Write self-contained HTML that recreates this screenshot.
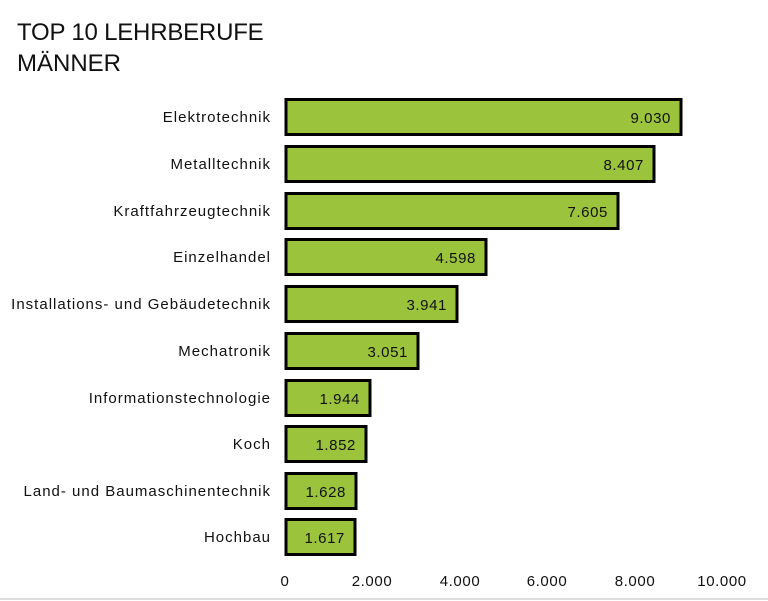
<!DOCTYPE html>
<html><head><meta charset="utf-8"><style>
body{margin:0;background:#fff}
svg{display:block}
text{font-family:"Liberation Sans",sans-serif;fill:#111}
</style></head><body>
<svg width="768" height="601" viewBox="0 0 768 601">
<rect x="0" y="0" width="768" height="601" fill="#fff"/>
<text x="17" y="40" font-size="24" letter-spacing="-0.2">TOP 10 LEHRBERUFE</text>
<text x="17" y="71" font-size="24">MÄNNER</text>
<g stroke="#000" stroke-width="3" fill="#9bc33c">
<rect x="286" y="99.5" width="395" height="35"/>
<rect x="286" y="146.5" width="368" height="35"/>
<rect x="286" y="193.5" width="332" height="35"/>
<rect x="286" y="239.5" width="200" height="35"/>
<rect x="286" y="286.5" width="171" height="35"/>
<rect x="286" y="333.5" width="132" height="35"/>
<rect x="286" y="380.5" width="84" height="35"/>
<rect x="286" y="426.5" width="80" height="35"/>
<rect x="286" y="473.5" width="70" height="35"/>
<rect x="286" y="519.5" width="69" height="35"/>
</g>
<g font-size="15" text-anchor="end" letter-spacing="0.6">
<text x="671" y="123">9.030</text>
<text x="644" y="170">8.407</text>
<text x="608" y="217">7.605</text>
<text x="476" y="263">4.598</text>
<text x="447" y="310">3.941</text>
<text x="408" y="357">3.051</text>
<text x="360" y="404">1.944</text>
<text x="356" y="450">1.852</text>
<text x="346" y="497">1.628</text>
<text x="345" y="543">1.617</text>
</g>
<g font-size="15" text-anchor="end" letter-spacing="1">
<text x="271" y="122">Elektrotechnik</text>
<text x="271" y="169">Metalltechnik</text>
<text x="271" y="216">Kraftfahrzeugtechnik</text>
<text x="271" y="262">Einzelhandel</text>
<text x="271" y="309">Installations- und Gebäudetechnik</text>
<text x="271" y="356">Mechatronik</text>
<text x="271" y="403">Informationstechnologie</text>
<text x="271" y="449">Koch</text>
<text x="271" y="496">Land- und Baumaschinentechnik</text>
<text x="271" y="542">Hochbau</text>
</g>
<g font-size="15" text-anchor="middle" letter-spacing="0.6">
<text x="285" y="586">0</text>
<text x="372" y="586">2.000</text>
<text x="460" y="586">4.000</text>
<text x="547" y="586">6.000</text>
<text x="635" y="586">8.000</text>
<text x="722" y="586">10.000</text>
</g>
<line x1="0" y1="599" x2="768" y2="599" stroke="#ddd" stroke-width="2"/>
</svg>
</body></html>
